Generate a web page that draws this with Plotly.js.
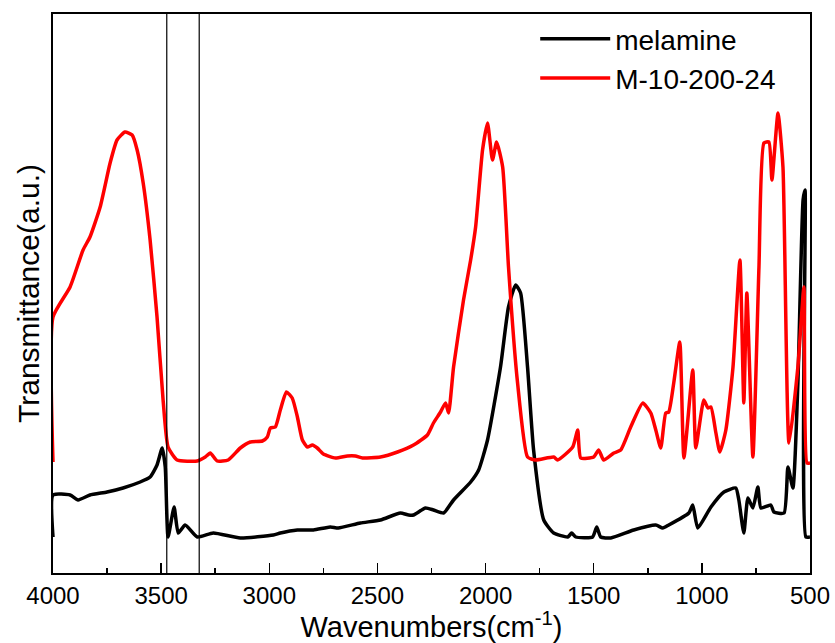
<!DOCTYPE html>
<html>
<head>
<meta charset="utf-8">
<script src="https://cdn.plot.ly/plotly-3.0.1.min.js"></script>
<style>html,body{margin:0;padding:0;background:#fff;}#chart{width:835px;height:643px;}</style>
</head>
<body>
<div id="chart"></div>
<script>
// Wavenumbers (cm^-1) and transmittance (a.u.)
const melamineWavenumbers = [4000,4000,3921,3884,3829,3750,3676,3597,3551,3519,3495,3481,3468,3440,3421,3389,3333,3259,3134,2981,2949,2870,2796,2718,2681,2579,2486,2394,2356,2333,2278,2241,2194,2148,2069,2032,1991,1931,1894,1861,1838,1806,1778,1731,1685,1620,1602,1583,1505,1486,1468,1421,1315,1213,1181,1153,1060,1042,1019,958,898,843,829,806,787,764,741,727,681,667,620,602,579,556,532,523,519,500];
const melamineValues = [36,78,78,73,78,81,85,91,96,108,125,106,36,66,40,48,36,40,35,38,40,43,43,46,45,50,53,60,58,58,65,63,60,73,91,103,133,206,266,288,280,206,123,53,40,36,40,36,36,46,36,35,43,48,45,48,60,68,45,66,81,85,73,40,75,65,86,65,68,61,60,106,85,190,373,383,36,36];

const sampleWavenumbers = [4000,4000,3921,3861,3829,3782,3736,3704,3667,3634,3611,3583,3551,3519,3491,3468,3426,3333,3296,3273,3241,3190,3134,3088,3032,3009,2995,2972,2949,2921,2894,2870,2847,2824,2801,2778,2750,2694,2639,2602,2569,2486,2407,2333,2269,2241,2208,2185,2171,2148,2102,2069,2046,2014,1991,1968,1949,1921,1894,1852,1806,1769,1685,1667,1597,1574,1560,1500,1477,1454,1407,1375,1329,1273,1236,1213,1190,1167,1153,1130,1102,1083,1042,1028,991,972,958,935,917,889,856,824,806,792,764,736,713,690,676,648,625,597,556,528,514,500];
const sampleValues = [111,256,286,323,336,366,410,433,441,438,423,390,333,256,173,126,113,112,116,120,112,113,125,131,132,136,145,146,163,181,175,156,133,126,128,125,119,115,117,117,115,116,121,128,138,150,161,170,160,206,273,313,346,423,450,413,431,406,306,190,116,113,116,113,126,143,115,116,123,113,120,123,146,170,160,143,125,160,161,190,231,115,203,125,173,165,166,140,121,143,206,313,170,280,116,306,430,431,393,460,406,130,206,286,110,110];

const seriesNames = ["melamine", "M-10-200-24"];
const seriesColors = ["#000000", "#ff0000"];
const markerLines = [3474, 3324];
const xTickValues = [4000,3500,3000,2500,2000,1500,1000,500];

const traces = [
  {x: melamineWavenumbers, y: melamineValues, name: seriesNames[0], type: "scatter", mode: "lines",
   line: {color: seriesColors[0], width: 3.5, shape: "spline", smoothing: 0.5}},
  {x: sampleWavenumbers, y: sampleValues, name: seriesNames[1], type: "scatter", mode: "lines",
   line: {color: seriesColors[1], width: 3.5, shape: "spline", smoothing: 0.5}}
];

const shapes = markerLines.map(v => ({
  type: "line", xref: "x", yref: "paper", x0: v, x1: v, y0: 0, y1: 1,
  line: {color: "#000", width: 1.2}
}));

const layout = {
  width: 835, height: 643,
  margin: {l: 53, r: 25, t: 14, b: 70},
  paper_bgcolor: "#fff", plot_bgcolor: "#fff",
  font: {family: "Liberation Sans, Arial, sans-serif", color: "#000"},
  showlegend: true,
  legend: {x: 0.637, y: 1, xanchor: "left", yanchor: "top", bgcolor: "rgba(0,0,0,0)",
           font: {size: 28, color: "#000"}, itemwidth: 70, tracegroupgap: 0},
  xaxis: {
    range: [4000, 500], tickvals: xTickValues, ticks: "inside", ticklen: 10, tickwidth: 1.5,
    tickcolor: "#000", showline: true, linewidth: 2, linecolor: "#000", mirror: true,
    showgrid: false, zeroline: false, tickfont: {size: 24},
    minor: {dtick: 250, ticks: "inside", ticklen: 5, tickwidth: 1.5, tickcolor: "#000", showgrid: false},
    title: {text: "Wavenumbers(cm<sup>-1</sup>)", font: {size: 29}, standoff: 0}
  },
  yaxis: {
    range: [0, 559], showticklabels: false, ticks: "", showline: true, linewidth: 2,
    linecolor: "#000", mirror: true, showgrid: false, zeroline: false,
    title: {text: "Transmittance(a.u.)", font: {size: 30}, standoff: 3}
  },
  shapes: shapes
};

Plotly.newPlot("chart", traces, layout, {displayModeBar: false, staticPlot: true});
</script>
</body>
</html>
